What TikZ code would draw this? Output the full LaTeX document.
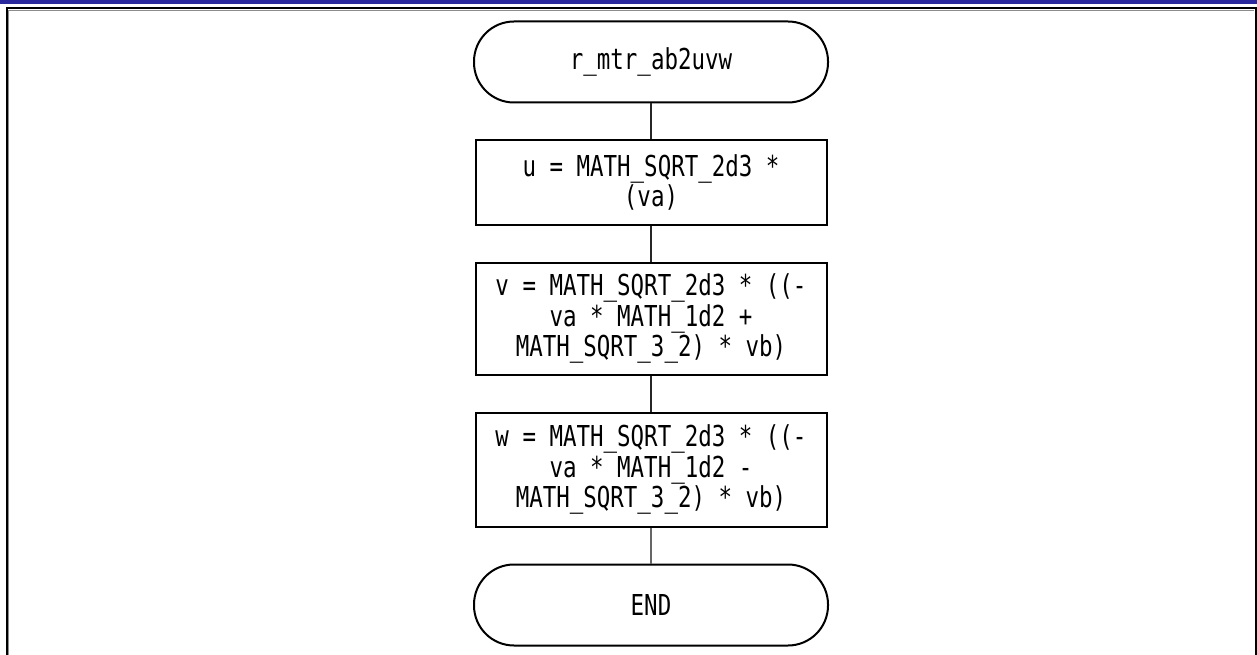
\documentclass[tikz,border=0pt]{standalone}
\usepackage{fontspec}
\newfontfamily\flowfont[FakeStretch=0.78]{DejaVu Sans Mono}
\usetikzlibrary{positioning}
\definecolor{barblue}{RGB}{42,42,158}

\begin{document}
\begin{tikzpicture}[x=1pt, y=1pt, node distance=36pt,
    line width=2pt,
    terminal/.style={draw=black, rounded corners=40pt, minimum width=354pt,
                     minimum height=81pt, align=center, font=\flowfont\fontsize{28.8}{30.5}\selectfont},
    process/.style={draw=black, minimum width=351pt, inner sep=0pt,
                    align=center, font=\flowfont\fontsize{28.8}{30.5}\selectfont},
    link/.style={draw=black!85, line width=1.3pt}]
  \useasboundingbox (0,0) rectangle (1257,-655);
  % title bar and frame
  \fill[barblue] (0,0) rectangle (1257,-4.5);
  \draw[black, line width=2pt] (7,-655) -- (7,-8.5) -- (1255.5,-8.5) -- (1255.5,-655);
  \draw[black!45, line width=1pt] (8.8,-655) -- (8.8,-10.3) -- (1254,-10.3);

  \node[terminal] (start) at (651,-62) {r\_mtr\_ab2uvw};
  \node[process, minimum height=84pt, below=of start] (stepu)
      {u = MATH\_SQRT\_2d3 *\\(va)};
  \node[process, minimum height=112pt, below=of stepu] (stepv)
      {v = MATH\_SQRT\_2d3 * ((-\\va * MATH\_1d2 +\\MATH\_SQRT\_3\_2) * vb)};
  \node[process, minimum height=114pt, below=of stepv] (stepw)
      {w = MATH\_SQRT\_2d3 * ((-\\va * MATH\_1d2 -\\MATH\_SQRT\_3\_2) * vb)};
  \node[terminal, below=of stepw] (finish) {END};

  \draw[link] (start) -- (stepu);
  \draw[link] (stepu) -- (stepv);
  \draw[link] (stepv) -- (stepw);
  \draw[link, draw=black!60] (stepw) -- (finish);
\end{tikzpicture}
\end{document}
